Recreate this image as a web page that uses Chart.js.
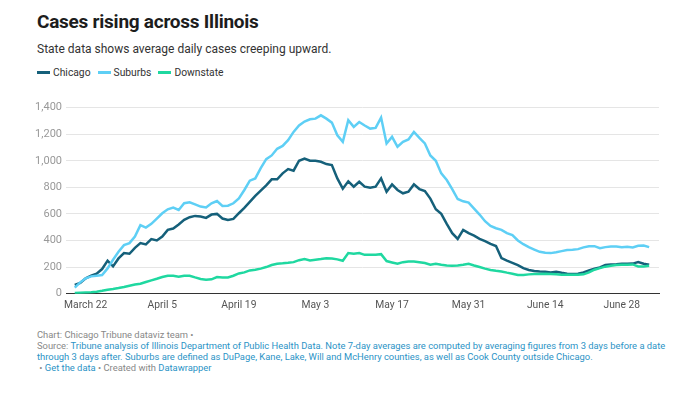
<!DOCTYPE html>
<html>
<head>
<meta charset="utf-8">
<script src="https://cdn.jsdelivr.net/npm/chart.js@4"></script>
<style>
  body { margin: 0; width: 680px; height: 396px; background: #fff; font-family: Roboto, sans-serif; position: relative; overflow: hidden; }
  .head { position: absolute; left: 37px; top: 10px; }
  h1 { margin: 0; font-size: 19px; font-weight: 700; color: #1d1d1d; line-height: 24px; letter-spacing: -0.25px; }
  .sub { margin-top: 7px; font-size: 12px; color: #333; line-height: 16px; }
  .legend { position: absolute; left: 37px; top: 66px; font-size: 10.3px; color: #333; display: flex; }
  .legend span { display: inline-flex; align-items: center; margin-right: 7px; }
  .legend i { display: inline-block; width: 13px; height: 3px; margin-right: 3px; }
  #wrap { position: absolute; left: 0; top: 97px; width: 680px; height: 225px; }
  .foot { position: absolute; left: 37px; top: 329px; font-size: 9.4px; line-height: 11px; color: #888; white-space: nowrap; }
  .foot a { color: #2b93c6; text-decoration: none; }
</style>
</head>
<body>
<div class="head">
  <h1>Cases rising across Illinois</h1>
  <div class="sub">State data shows average daily cases creeping upward.</div>
</div>
<div class="legend">
  <span><i style="background:#15607a"></i>Chicago</span>
  <span><i style="background:#5ecff5"></i>Suburbs</span>
  <span><i style="background:#1fd8a0"></i>Downstate</span>
</div>
<div id="wrap"><canvas id="myChart"></canvas></div>
<div class="foot">
  Chart: Chicago Tribune dataviz team •<br>
  Source: <a>Tribune analysis of Illinois Department of Public Health Data. Note 7-day averages are computed by averaging figures from 3 days before a date</a><br>
  <a>through 3 days after. Suburbs are defined as DuPage, Kane, Lake, Will and McHenry counties, as well as Cook County outside Chicago.</a><br>
  &nbsp;• <a>Get the data</a> • Created with <a>Datawrapper</a>
</div>
<script>
// daily 7-day averages, March 20 through July 3 (day 0 = March 20)
var chicago = [65, 80, 115, 135, 150, 185, 248, 205, 265, 305, 300, 345, 380, 370, 410, 400, 430, 480, 490, 520,
  555, 575, 585, 580, 570, 595, 600, 565, 555, 562, 605, 645, 690, 735, 775, 815, 860, 860, 905, 937,
  925, 1000, 1017, 1000, 1000, 992, 975, 967, 867, 790, 845, 805, 842, 805, 797, 805, 867, 767, 822, 780,
  755, 767, 822, 787, 772, 715, 635, 600, 525, 455, 412, 480, 455, 437, 412, 395, 375, 358, 268, 248,
  232, 215, 192, 178, 170, 167, 165, 160, 165, 157, 150, 147, 150, 160, 175, 188, 197, 215, 220, 222,
  225, 225, 226, 237, 225, 217];
var suburbs = [45, 85, 115, 130, 135, 140, 190, 255, 315, 365, 380, 430, 515, 497, 525, 565, 605, 635, 648, 630,
  680, 687, 672, 655, 648, 680, 697, 660, 662, 680, 717, 780, 850, 867, 945, 1012, 1040, 1090, 1112, 1155,
  1217, 1265, 1295, 1312, 1317, 1342, 1317, 1287, 1192, 1142, 1305, 1255, 1292, 1265, 1242, 1247, 1325, 1130, 1180, 1105,
  1142, 1160, 1217, 1172, 1130, 1040, 1000, 905, 855, 787, 712, 695, 685, 640, 595, 545, 510, 492, 480, 455,
  440, 400, 372, 350, 332, 315, 307, 305, 312, 320, 328, 330, 335, 348, 357, 357, 342, 350, 355, 355,
  350, 352, 348, 360, 362, 350];
var downstate = [5, 7, 9, 10, 15, 22, 30, 35, 42, 50, 60, 68, 75, 88, 100, 112, 125, 135, 135, 128,
  135, 135, 122, 110, 105, 108, 125, 122, 122, 135, 152, 160, 175, 180, 188, 200, 215, 225, 228, 232,
  237, 252, 260, 250, 255, 260, 267, 265, 258, 247, 305, 300, 305, 292, 292, 292, 297, 245, 235, 225,
  237, 242, 242, 237, 230, 217, 225, 217, 212, 210, 212, 217, 225, 212, 200, 188, 178, 172, 167, 158,
  150, 140, 140, 145, 147, 147, 150, 148, 145, 142, 142, 142, 142, 145, 160, 180, 192, 203, 210, 215,
  217, 217, 220, 205, 205, 210];

var tickDays = [2, 16, 30, 44, 58, 72, 86, 100];
var tickLabels = ['March 22', 'April 5', 'April 19', 'May 3', 'May 17', 'May 31', 'June 14', 'June 28'];

function toPoints(arr) {
  return arr.map((v, i) => ({ x: i, y: v }));
}

const ctx = document.getElementById('myChart');
new Chart(ctx, {
  type: 'line',
  data: {
    datasets: [
      { label: 'Downstate', data: toPoints(downstate), borderColor: '#1fd8a0', borderWidth: 2.5, pointRadius: 0, tension: 0 },
      { label: 'Suburbs', data: toPoints(suburbs), borderColor: '#5ecff5', borderWidth: 2.5, pointRadius: 0, tension: 0 },
      { label: 'Chicago', data: toPoints(chicago), borderColor: '#15607a', borderWidth: 2.5, pointRadius: 0, tension: 0 }
    ]
  },
  options: {
    responsive: true,
    maintainAspectRatio: false,
    animation: false,
    layout: { padding: { top: 9, right: 21, left: 0, bottom: 4 } },
    plugins: { legend: { display: false }, tooltip: { enabled: false } },
    scales: {
      x: {
        type: 'linear',
        min: -1.6,
        max: 106.8,
        afterBuildTicks: (scale) => { scale.ticks = tickDays.map(d => ({ value: d })); },
        ticks: {
          autoSkip: false,
          maxRotation: 0,
          padding: 6,
          color: '#555',
          font: { family: 'Roboto', size: 10.3 },
          callback: (v) => tickLabels[tickDays.indexOf(v)]
        },
        grid: { display: false, drawTicks: false },
        border: { display: true, color: '#333', width: 1 }
      },
      y: {
        min: 0,
        max: 1400,
        afterFit: (scale) => { scale.width = 66; },
        ticks: {
          stepSize: 200,
          padding: 4,
          color: '#999',
          font: { family: 'Roboto', size: 11 }
        },
        grid: { color: '#e5e5e5', drawTicks: false },
        border: { display: false }
      }
    }
  }
});
</script>
</body>
</html>
